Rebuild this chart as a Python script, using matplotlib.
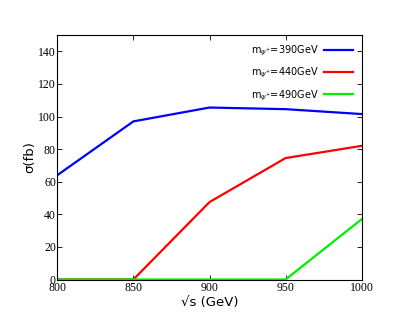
import matplotlib
matplotlib.use("Agg")
import matplotlib.pyplot as plt

SQRT_S = [800, 850, 900, 950, 1000]
SIGMA_390 = [64, 97, 105.5, 104.5, 101.5]
SIGMA_440 = [0, 0, 47.5, 74.5, 82]
SIGMA_490 = [0, 0, 0, 0, 37]

X_TICKS = [800, 850, 900, 950, 1000]
Y_TICKS = [0, 20, 40, 60, 80, 100, 120, 140]

SERIES = [
    (SIGMA_390, "#0000ff", r"m$_{\psi^{+}}$=390GeV"),
    (SIGMA_440, "#ff0000", r"m$_{\psi^{+}}$=440GeV"),
    (SIGMA_490, "#00ee00", r"m$_{\psi^{+}}$=490GeV"),
]

fig = plt.figure(figsize=(4.09, 3.27), dpi=100)
ax = fig.add_axes([57.3 / 409, 1 - 279.5 / 327, (361.7 - 57.3) / 409, (279.5 - 35) / 327])

for ys, col, lab in SERIES:
    ax.plot(SQRT_S, ys, color=col, linewidth=1.6, label=lab)

ax.set_xlim(800, 1000)
ax.set_ylim(0, 150)
ax.set_xticks(X_TICKS)
ax.set_yticks(Y_TICKS)
ax.tick_params(direction="in", top=True, right=True, length=3.5, width=0.6,
               labelsize=8.5, pad=2)
ax.tick_params(axis="y", pad=1)
for lbl in ax.get_xticklabels() + ax.get_yticklabels():
    lbl.set_family("Liberation Serif")
for sp in ax.spines.values():
    sp.set_linewidth(0.8)

ax.set_xlabel("\u221as (GeV)", fontsize=9.5, labelpad=1)
ax.set_ylabel("\u03c3(fb)", fontsize=9.5, labelpad=1)

leg = ax.legend(loc="upper right", frameon=False, markerfirst=False, fontsize=7,
                handlelength=3.0, handletextpad=0.5, labelspacing=0.8,
                borderaxespad=0.0, bbox_to_anchor=(0.985, 0.98))

fig.savefig("out.png", dpi=100)
